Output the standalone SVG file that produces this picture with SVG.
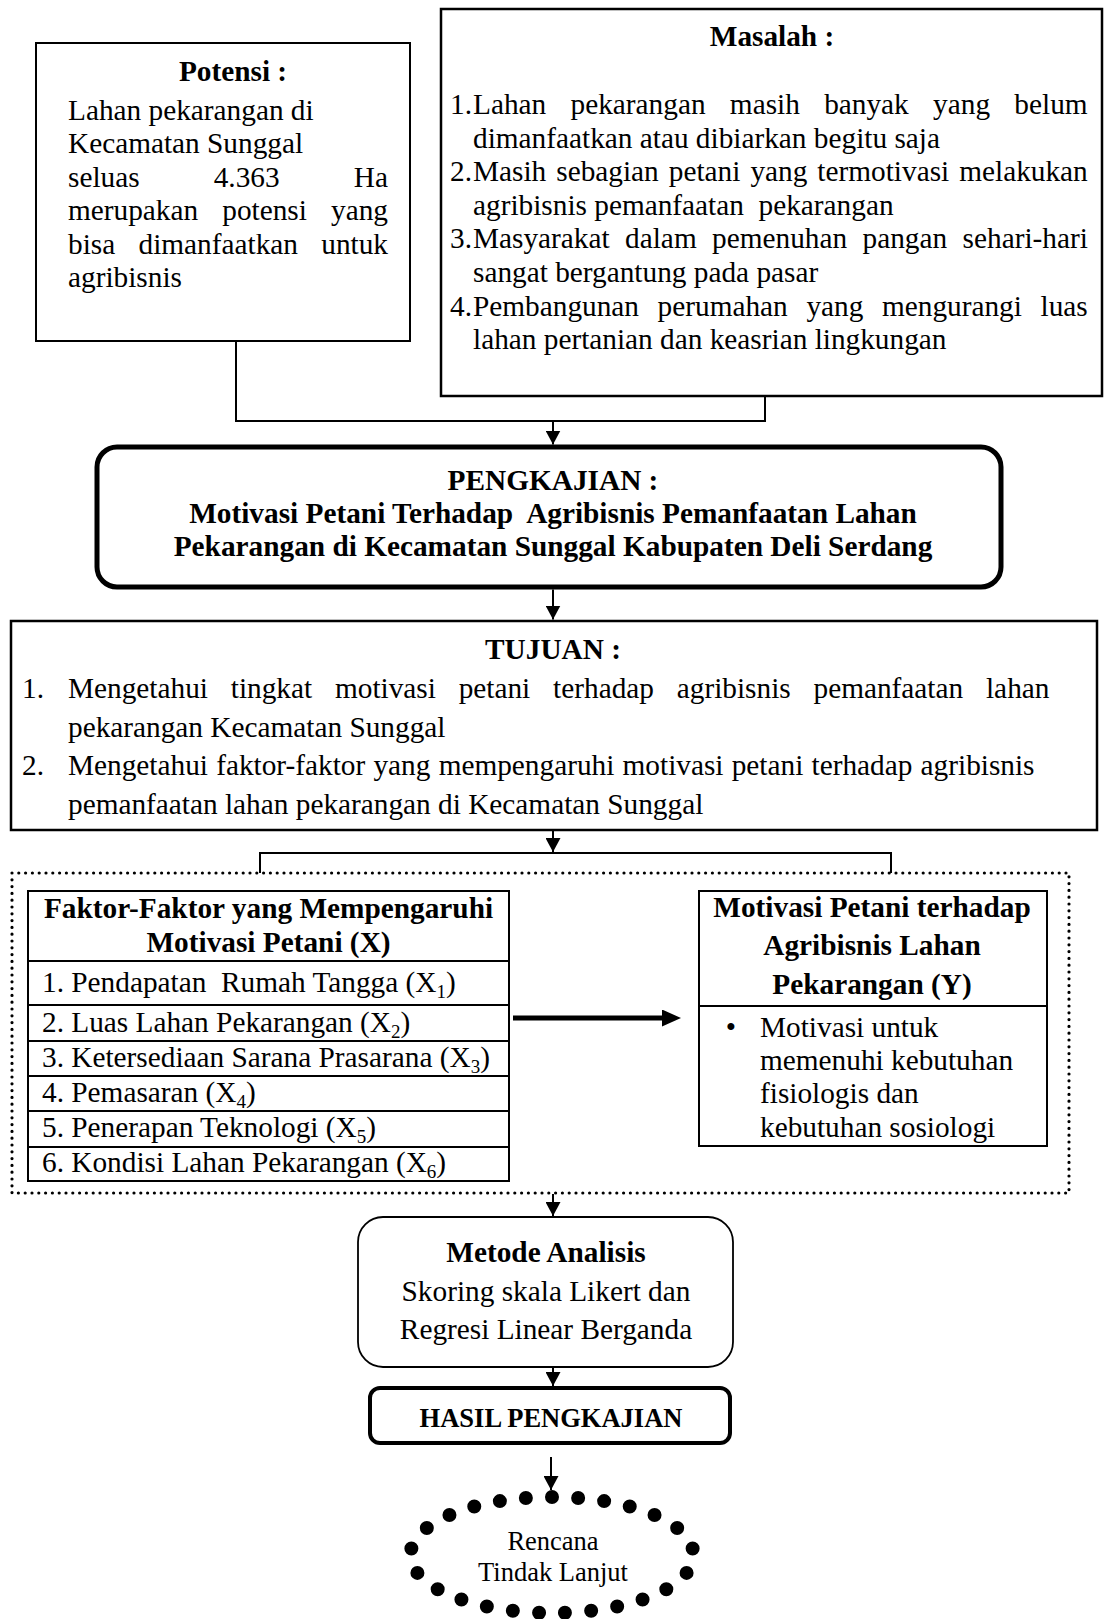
<svg xmlns="http://www.w3.org/2000/svg" width="1105" height="1619" viewBox="0 0 1105 1619">
<defs>
<style>
.t{font-family:"Liberation Serif","Times New Roman",serif;font-size:29.3px;fill:#000}
.b{font-weight:bold}
.c{text-anchor:middle}
.box{fill:#fff;stroke:#000}
.ln{fill:none;stroke:#000;stroke-width:2}
.sub{font-size:19px}
</style>
<marker id="arr" markerUnits="userSpaceOnUse" viewBox="0 0 14 15" refX="14" refY="7.5" markerWidth="14" markerHeight="15" orient="auto">
<path d="M0,0 L14,7.5 L0,15 z" fill="#000"/>
</marker>
<marker id="arrT" markerUnits="userSpaceOnUse" viewBox="0 0 19 17" refX="1" refY="8.5" markerWidth="19" markerHeight="17" orient="auto">
<path d="M0,0 L19,8.5 L0,17 z" fill="#000"/>
</marker>
</defs>
<rect width="1105" height="1619" fill="#fff"/>

<g id="connectors">
<polyline class="ln" points="236,341 236,421 765,421 765,396"/>
<line class="ln" x1="553" y1="421" x2="553" y2="444.5" marker-end="url(#arr)"/>
<line class="ln" x1="553" y1="589.5" x2="553" y2="619.5" marker-end="url(#arr)"/>
<line class="ln" x1="553" y1="831" x2="553" y2="852" marker-end="url(#arr)"/>
<polyline class="ln" points="260,873 260,853 891,853 891,873"/>
<line x1="513" y1="1018" x2="663" y2="1018" stroke="#000" stroke-width="5" marker-end="url(#arrT)"/>
<line class="ln" x1="553" y1="1194" x2="553" y2="1216" marker-end="url(#arr)"/>
<line class="ln" x1="553" y1="1367" x2="553" y2="1386" marker-end="url(#arr)"/>
<line class="ln" x1="551" y1="1457" x2="551" y2="1490" marker-end="url(#arr)"/>
</g>

<g id="potensi">
<rect class="box" x="36" y="43" width="374" height="298" stroke-width="2"/>
<text class="t b c" x="233" y="81">Potensi :</text>
<text class="t" x="68" y="120">Lahan pekarangan di</text>
<text class="t" x="68" y="153">Kecamatan Sunggal</text>
<text class="t" x="68" y="187" word-spacing="66.8">seluas 4.363 Ha</text>
<text class="t" x="68" y="220" word-spacing="16.8">merupakan potensi yang</text>
<text class="t" x="68" y="254" word-spacing="16">bisa dimanfaatkan untuk</text>
<text class="t" x="68" y="287">agribisnis</text>
</g>

<g id="masalah">
<rect class="box" x="441" y="9" width="661" height="387" stroke-width="2.5"/>
<text class="t b c" x="772" y="46">Masalah :</text>
<text class="t" x="450" y="114">1.</text>
<text class="t" x="473" y="114" word-spacing="17">Lahan pekarangan masih banyak yang belum</text>
<text class="t" x="473" y="147.6">dimanfaatkan atau dibiarkan begitu saja</text>
<text class="t" x="450" y="181.2">2.</text>
<text class="t" x="473" y="181.2" word-spacing="2.7">Masih sebagian petani yang termotivasi melakukan</text>
<text class="t" x="473" y="214.8" xml:space="preserve">agribisnis pemanfaatan  pekarangan</text>
<text class="t" x="450" y="248.4">3.</text>
<text class="t" x="473" y="248.4" word-spacing="8.1">Masyarakat dalam pemenuhan pangan sehari-hari</text>
<text class="t" x="473" y="282">sangat bergantung pada pasar</text>
<text class="t" x="450" y="315.6">4.</text>
<text class="t" x="473" y="315.6" word-spacing="11.3">Pembangunan perumahan yang mengurangi luas</text>
<text class="t" x="473" y="349.2">lahan pertanian dan keasrian lingkungan</text>
</g>

<g id="pengkajian">
<rect class="box" x="97" y="447" width="904" height="140" rx="20" ry="20" stroke-width="5"/>
<text class="t b c" x="553" y="489.5">PENGKAJIAN :</text>
<text class="t b c" x="553" y="523" xml:space="preserve">Motivasi Petani Terhadap  Agribisnis Pemanfaatan Lahan</text>
<text class="t b c" x="553" y="556">Pekarangan di Kecamatan Sunggal Kabupaten Deli Serdang</text>
</g>

<g id="tujuan">
<rect class="box" x="11" y="621" width="1086" height="209" stroke-width="2.5"/>
<text class="t b c" x="553" y="659">TUJUAN :</text>
<text class="t" x="22" y="698">1.</text>
<text class="t" x="68" y="698" word-spacing="15.5">Mengetahui tingkat motivasi petani terhadap agribisnis pemanfaatan lahan</text>
<text class="t" x="68" y="736.7">pekarangan Kecamatan Sunggal</text>
<text class="t" x="22" y="775.3">2.</text>
<text class="t" x="68" y="775.3" word-spacing="0.9">Mengetahui faktor-faktor yang mempengaruhi motivasi petani terhadap agribisnis</text>
<text class="t" x="68" y="814">pemanfaatan lahan pekarangan di Kecamatan Sunggal</text>
</g>

<g id="kelompok-variabel">
<rect x="12" y="873" width="1057" height="320" fill="none" stroke="#000" stroke-width="3.2" stroke-dasharray="0 6.8" stroke-linecap="round"/>
</g>

<g id="faktor-x">
<rect class="box" x="28" y="891" width="481" height="290" stroke-width="2"/>
<line class="ln" x1="28" y1="961" x2="509" y2="961"/>
<line class="ln" x1="28" y1="1005" x2="509" y2="1005"/>
<line class="ln" x1="28" y1="1041" x2="509" y2="1041"/>
<line class="ln" x1="28" y1="1076" x2="509" y2="1076"/>
<line class="ln" x1="28" y1="1111" x2="509" y2="1111"/>
<line class="ln" x1="28" y1="1147" x2="509" y2="1147"/>
<text class="t b c" x="268.5" y="918">Faktor-Faktor yang Mempengaruhi</text>
<text class="t b c" x="268.5" y="952">Motivasi Petani (X)</text>
<text class="t" x="42" y="992" xml:space="preserve">1. Pendapatan  Rumah Tangga (X<tspan class="sub" dy="6">1</tspan><tspan dy="-6">)</tspan></text>
<text class="t" x="42" y="1032">2. Luas Lahan Pekarangan (X<tspan class="sub" dy="6">2</tspan><tspan dy="-6">)</tspan></text>
<text class="t" x="42" y="1067">3. Ketersediaan Sarana Prasarana (X<tspan class="sub" dy="6">3</tspan><tspan dy="-6">)</tspan></text>
<text class="t" x="42" y="1102">4. Pemasaran (X<tspan class="sub" dy="6">4</tspan><tspan dy="-6">)</tspan></text>
<text class="t" x="42" y="1137">5. Penerapan Teknologi (X<tspan class="sub" dy="6">5</tspan><tspan dy="-6">)</tspan></text>
<text class="t" x="42" y="1172">6. Kondisi Lahan Pekarangan (X<tspan class="sub" dy="6">6</tspan><tspan dy="-6">)</tspan></text>
</g>

<g id="motivasi-y">
<rect class="box" x="699" y="891" width="348" height="255" stroke-width="2"/>
<line class="ln" x1="699" y1="1006" x2="1047" y2="1006"/>
<text class="t b c" x="872" y="917">Motivasi Petani terhadap</text>
<text class="t b c" x="872" y="955">Agribisnis Lahan</text>
<text class="t b c" x="872" y="994">Pekarangan (Y)</text>
<text class="t c" x="731" y="1037">•</text>
<text class="t" x="760" y="1037">Motivasi untuk</text>
<text class="t" x="760" y="1070">memenuhi kebutuhan</text>
<text class="t" x="760" y="1103">fisiologis dan</text>
<text class="t" x="760" y="1137">kebutuhan sosiologi</text>
</g>

<g id="metode">
<rect class="box" x="358" y="1217" width="375" height="150" rx="25" ry="25" stroke-width="1.8"/>
<text class="t b c" x="546" y="1262">Metode Analisis</text>
<text class="t c" x="546" y="1300.5">Skoring skala Likert dan</text>
<text class="t c" x="546" y="1339">Regresi Linear Berganda</text>
</g>

<g id="hasil">
<rect class="box" x="370" y="1388" width="360" height="55" rx="10" ry="10" stroke-width="4"/>
<text class="t b c" x="551" y="1427" style="font-size:26.5px">HASIL PENGKAJIAN</text>
</g>

<g id="rencana">
<path d="M552,1497 A141.5,58 0 1,1 552,1613 A141.5,58 0 1,1 552,1497" pathLength="25" fill="none" stroke="#000" stroke-width="14" stroke-dasharray="0 1" stroke-linecap="round"/>
<text class="t c" x="553" y="1550" style="font-size:26.5px">Rencana</text>
<text class="t c" x="553" y="1581" style="font-size:26.5px">Tindak Lanjut</text>
</g>
</svg>
